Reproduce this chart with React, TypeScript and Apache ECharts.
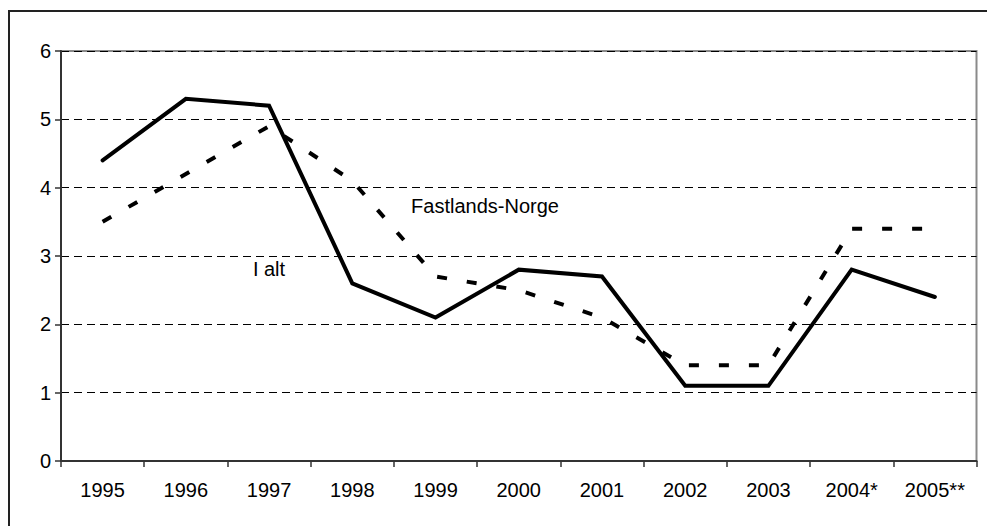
import React, { useEffect, useRef } from "react";
import * as echarts from "echarts";

const categories = ["1995", "1996", "1997", "1998", "1999", "2000", "2001", "2002", "2003", "2004*", "2005**"];
const iAlt = [4.4, 5.3, 5.2, 2.6, 2.1, 2.8, 2.7, 1.1, 1.1, 2.8, 2.4];
const fastlandsNorge = [3.5, 4.2, 4.9, 4.1, 2.7, 2.5, 2.1, 1.4, 1.4, 3.4, 3.4];
const seriesNames = ["I alt", "Fastlands-Norge"];

const FONT = "'Liberation Sans', Arial, sans-serif";

export default function App() {
  const ref = useRef<HTMLDivElement>(null);
  useEffect(() => {
    if (!ref.current) return;
    const chart = echarts.init(ref.current, null, { renderer: "svg" });
    chart.setOption({
      animation: false,
      backgroundColor: "#fff",
      textStyle: { fontFamily: FONT },
      grid: {
        left: 61,
        right: 10.5,
        top: 51,
        bottom: 65,
        show: true,
        borderColor: "#8a8a8a",
        borderWidth: 2,
        backgroundColor: "transparent",
      },
      xAxis: {
        type: "category",
        data: categories,
        boundaryGap: true,
        axisLine: { lineStyle: { color: "#333", width: 2 } },
        axisTick: { show: true, length: 6, alignWithLabel: false, lineStyle: { color: "#333", width: 1.5 } },
        axisLabel: { color: "#000", fontSize: 20, fontFamily: FONT, margin: 19, interval: 0 },
        splitLine: { show: false },
      },
      yAxis: {
        type: "value",
        min: 0,
        max: 6,
        interval: 1,
        axisLine: { show: true, lineStyle: { color: "#333", width: 2 } },
        axisTick: { show: true, length: 6, lineStyle: { color: "#333", width: 1.5 } },
        axisLabel: { color: "#000", fontSize: 20, fontFamily: FONT, margin: 10 },
        splitLine: { show: true, lineStyle: { color: "#000", width: 1, type: [8, 5] } },
      },
      series: [
        {
          name: seriesNames[0],
          type: "line",
          data: iAlt,
          showSymbol: false,
          symbol: "none",
          lineStyle: { color: "#000", width: 4, cap: "round", join: "miter" },
          z: 3,
        },
        {
          name: seriesNames[1],
          type: "line",
          data: fastlandsNorge,
          showSymbol: false,
          symbol: "none",
          lineStyle: { color: "#000", width: 4, type: [10, 20], join: "miter" },
          z: 2,
        },
      ],
      graphic: [
        {
          type: "rect",
          shape: { x: 9, y: 11, width: 1000, height: 600 },
          style: { fill: "none", stroke: "#222", lineWidth: 2 },
          silent: true,
          z: 100,
        },
        {
          type: "text",
          x: 485,
          y: 206,
          style: { text: seriesNames[1], fontSize: 20, fontFamily: FONT, fill: "#000", align: "center", verticalAlign: "middle" },
        },
        {
          type: "text",
          x: 269,
          y: 269,
          style: { text: seriesNames[0], fontSize: 20, fontFamily: FONT, fill: "#000", align: "center", verticalAlign: "middle" },
        },
      ],
    });
    return () => chart.dispose();
  }, []);
  return <div ref={ref} style={{ position: "fixed", left: 0, top: 0, width: 987, height: 526 }} />;
}
